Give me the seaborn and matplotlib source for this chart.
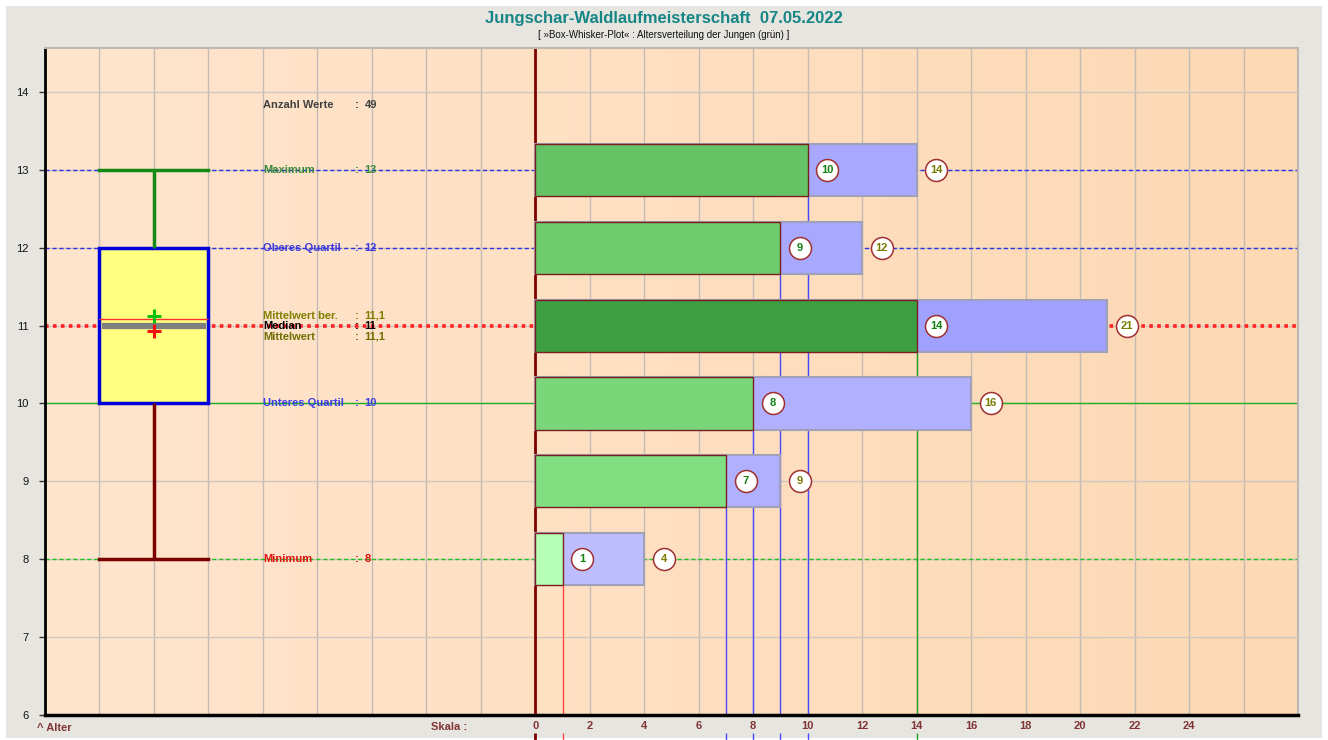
import numpy as np
import pandas as pd
import matplotlib
matplotlib.use("Agg")
import matplotlib.pyplot as plt
from matplotlib.patches import Rectangle
import seaborn as sns

# ---- data -------------------------------------------------------------
ages = [13, 12, 11, 10, 9, 8]
boys = [10, 9, 14, 8, 7, 1]            # green bars (Jungen)
totals = [14, 12, 21, 16, 9, 4]        # blue bars (all runners)
boy_colors = ["#64C364", "#6DCD6D", "#3E9F42", "#79D679", "#80DF80", "#B6FFB6"]
total_colors = ["#A8A8FF", "#A8A8FF", "#A0A0FF", "#B0B0FF", "#B0B0FF", "#BEBEFF"]
count_line_colors = ["#4848FF", "#4848FF", "#22A022", "#4848FF", "#4848FF", "#FF4848"]

scale_ticks = [0, 2, 4, 6, 8, 10, 12, 14, 16, 18, 20, 22, 24]
age_ticks = [6, 7, 8, 9, 10, 11, 12, 13, 14]

n_values = 49
stat_labels = ["Maximum", "Oberes Quartil", "Mittelwert ber.", "Median",
               "Mittelwert", "Unteres Quartil", "Minimum"]
stat_values = ["13", "12", "11,1", "11", "11,1", "10", "8"]
stat_y = [13, 12, 11.13, 11, 10.86, 10, 8]
stat_colors = ["#3A8A3A", "#3C3CDC", "#808000", "#000000", "#6E6E00", "#3C3CE6", "#E01010"]
mean_markers_y = [11.12, 10.93]
mean_marker_colors = ["#10C010", "#F01010"]

# ---- layout -----------------------------------------------------------
W, H = 1328, 740
X_MIN, X_MAX = -18, 28
Y_MIN, Y_MAX = 6, 14.565
BAR_H = 0.67
BOX_POS, BOX_W = -14, 4

plt.rcParams["font.family"] = ["Liberation Sans", "DejaVu Sans"]
fig = plt.figure(figsize=(W / 100, H / 100), dpi=100, facecolor="white")
fig.patches.append(Rectangle((6 / W, 2 / H), 1316 / W, 732 / H, transform=fig.transFigure,
                             facecolor="#E7E5E0", edgecolor="none", zorder=-10))
ax = fig.add_axes([45 / W, 25 / H, (1298 - 45) / W, (715 - 48) / H])

# warm background gradient
grad = np.linspace(0, 1, 256)
c0 = np.array([255, 229, 206]) / 255
c1 = np.array([253, 217, 180]) / 255
img = (c0[None, :] * (1 - grad[:, None]) + c1[None, :] * grad[:, None])[None, :, :]
ax.imshow(img, extent=[X_MIN, X_MAX, Y_MIN, Y_MAX], aspect="auto", zorder=0)

# grid
ax.set_xticks(np.arange(X_MIN, X_MAX + 1, 2), minor=True)
ax.set_xticks(scale_ticks)
ax.set_yticks(age_ticks)
ax.grid(True, which="both", axis="x", color="#C4BCB4", lw=1, zorder=0.5)
ax.grid(True, which="major", axis="y", color="#CFC7BF", lw=1, zorder=0.5)
ax.set_axisbelow(True)

# reference lines of the summary statistics
ax.axhline(13, color="#3030E0", lw=1, ls=(0, (3, 2)), zorder=1)
ax.axhline(12, color="#3030E0", lw=1, ls=(0, (3, 2)), zorder=1)
ax.axhline(11, color="#FF2020", lw=2.6, ls=(0, (1, 1.2)), zorder=1)
ax.axhline(10, color="#20B020", lw=1, zorder=1)
ax.axhline(8, color="#20C020", lw=1, ls=(0, (3, 2)), zorder=1)

# count markers: vertical lines from each green bar down to the axis
for a, b, c in zip(ages, boys, count_line_colors):
    ax.vlines(b, Y_MIN, a - BAR_H / 2, color=c, lw=1, zorder=1.5)
    seg = ax.vlines(b, 5.68, 5.77, color=c, lw=1, zorder=1.5)
    seg.set_clip_on(False)
ax.axvline(0, color="#800000", lw=2, zorder=1.6)
seg = ax.vlines(0, 5.68, 5.77, color="#800000", lw=2)
seg.set_clip_on(False)

# ---- bars -------------------------------------------------------------
df = pd.DataFrame({"age": ages, "boys": boys, "total": totals,
                   "key": [f"a{a}" for a in ages]})
sns.barplot(data=df, x="total", y="age", hue="key",
            palette=dict(zip(df["key"], total_colors)), orient="y", native_scale=True,
            width=BAR_H, saturation=1, errorbar=None, legend=False,
            edgecolor="#A0A0B8", linewidth=1.5, zorder=2, ax=ax)
sns.barplot(data=df, x="boys", y="age", hue="key",
            palette=dict(zip(df["key"], boy_colors)), orient="y", native_scale=True,
            width=BAR_H, saturation=1, errorbar=None, legend=False,
            edgecolor="#7A1E1E", linewidth=1, zorder=2.5, ax=ax)

# value circles
circ = pd.DataFrame({"x": [v + 0.72 for v in boys + totals],
                     "y": ages + ages})
sns.scatterplot(data=circ, x="x", y="y", marker="o", s=250, color="white",
                edgecolor="#A03030", linewidth=1.1, zorder=5, ax=ax, legend=False)
for a, b, t in zip(ages, boys, totals):
    ax.text(b + 0.72, a, str(b), ha="center", va="center", fontsize=8,
            fontweight="bold", color="#108010", zorder=6)
    ax.text(t + 0.72, a, str(t), ha="center", va="center", fontsize=8,
            fontweight="bold", color="#7A7A00", zorder=6)

# ---- box-whisker plot of the boys' ages -------------------------------
box_df = pd.DataFrame({"age": np.repeat(ages, boys), "pos": BOX_POS})
n_lines, n_patches = len(ax.lines), len(ax.patches)
sns.boxplot(data=box_df, x="pos", y="age", orient="x", native_scale=True,
            width=BOX_W, whis=1.5, showfliers=False, color="#FFFF80",
            saturation=1, linecolor="#0000DD", linewidth=2.5, ax=ax)
for ln in ax.lines[n_lines:]:
    yd = np.asarray(ln.get_ydata(), dtype=float)
    if len(yd) != 2:
        continue
    if yd[0] == yd[1]:
        if yd[0] >= 12.5:
            ln.set_xdata([BOX_POS - BOX_W / 2, BOX_POS + BOX_W / 2])
            ln.set(color="#138A13", lw=2.5, zorder=3)
        elif yd[0] <= 9:
            ln.set_xdata([BOX_POS - BOX_W / 2, BOX_POS + BOX_W / 2])
            ln.set(color="#7A0000", lw=2.5, zorder=3)
        else:
            ln.set_xdata([BOX_POS - BOX_W / 2 + 0.1, BOX_POS + BOX_W / 2 - 0.1])
            ln.set(color="#7F7F7F", lw=4.5, zorder=3.5)
    else:
        c = "#138A13" if yd.max() > 12 else "#7A0000"
        ln.set(color=c, lw=2.5, zorder=3)
for p in ax.patches[n_patches:]:
    p.set(facecolor="#FFFF80", edgecolor="#0000DD", linewidth=2.5, zorder=3)

mean_age = float(np.mean(box_df["age"]))
ax.hlines(mean_age, BOX_POS - BOX_W / 2, BOX_POS + BOX_W / 2, color="#FF3030",
          lw=1, zorder=3.4)
for y, c in zip(mean_markers_y, mean_marker_colors):
    ax.plot(BOX_POS, y, marker="+", ms=10, mew=2.2, color=c, zorder=4)

# ---- statistics text --------------------------------------------------
TX, CX, VX = -10.0, -6.64, -6.27
ax.text(TX, 13.83, "Anzahl Werte", color="#404040", fontsize=8, fontweight="bold",
        va="center", zorder=6)
ax.text(CX, 13.83, ":", color="#404040", fontsize=8, fontweight="bold", va="center", zorder=6)
ax.text(VX, 13.83, str(n_values), color="#404040", fontsize=8, fontweight="bold",
        va="center", zorder=6)
for lab, val, y, c in zip(stat_labels, stat_values, stat_y, stat_colors):
    ax.text(TX, y, lab, color=c, fontsize=8, fontweight="bold", va="center", zorder=6)
    ax.text(CX, y, ":", color=c, fontsize=8, fontweight="bold", va="center", zorder=6)
    ax.text(VX, y, val, color=c, fontsize=8, fontweight="bold", va="center", zorder=6)

# ---- axes -------------------------------------------------------------
ax.set_xlim(X_MIN, X_MAX)
ax.set_ylim(Y_MIN, Y_MAX)
ax.set_xlabel("")
ax.set_ylabel("")
ax.set_xticklabels([str(t) for t in scale_ticks], fontsize=8, fontweight="bold",
                   color="#803434")
ax.tick_params(axis="x", which="both", length=0, pad=4)
ax.set_yticklabels([str(t) for t in age_ticks], fontsize=8, color="#111111")
ax.tick_params(axis="y", which="major", length=4, width=1, color="#333333", pad=8)
for side in ("top", "right"):
    ax.spines[side].set_color("#C0B8B0")
    ax.spines[side].set_linewidth(1.5)
ax.spines["left"].set_color("black")
ax.spines["left"].set_linewidth(2)
ax.spines["bottom"].set_color("black")
ax.spines["bottom"].set_linewidth(2.5)

# ---- titles and captions ----------------------------------------------
fig.text(664 / W, 1 - 19 / H, "Jungschar-Waldlaufmeisterschaft  07.05.2022",
         ha="center", va="center", fontsize=12, fontweight="bold", color="#168585")
fig.text(664 / W, 1 - 35 / H,
         "[ \u00bbBox-Whisker-Plot\u00ab : Altersverteilung der Jungen (gr\u00fcn) ]",
         ha="center", va="center", fontsize=7, color="#111111")
fig.text(37 / W, 1 - 728 / H, "^ Alter", ha="left", va="center", fontsize=8,
         fontweight="bold", color="#803434")
fig.text(449 / W, 1 - 727 / H, "Skala :", ha="center", va="center", fontsize=8,
         fontweight="bold", color="#803434")

fig.savefig("out.png", dpi=100, facecolor=fig.get_facecolor())
